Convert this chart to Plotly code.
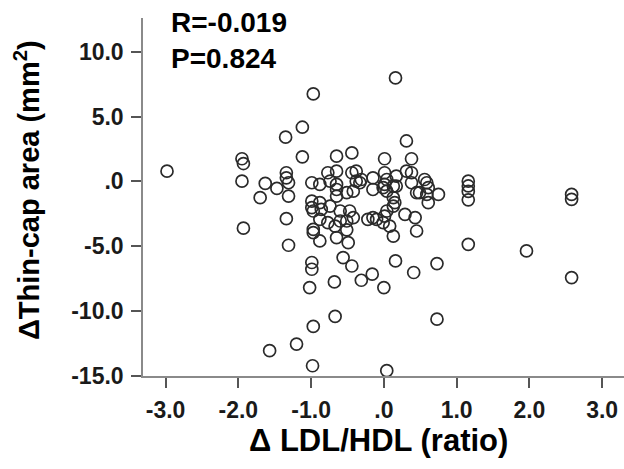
import plotly.graph_objects as go

# Δ LDL/HDL (ratio) and Δ Thin-cap area (mm²)
delta_ldl_hdl = [
    -2.98, -0.97, -1.12, -1.35, -1.95, -1.93, -1.95, -1.12, -0.65, -0.44,
    -1.63, -1.47, -1.34, -1.34, -1.31, -1.70, -1.31, -1.34, -1.93, -1.31,
    -0.99, -0.88, -0.77, -0.65, -0.74, -0.65, -0.65, -0.65, -0.44, -0.38,
    -0.31, -0.38, -0.42, -0.51, -0.99, -0.99, -0.97, -0.88, -0.86, -0.74,
    -0.60, -0.47, -0.97, -0.88, -0.77, -0.67, -0.60, -0.51, -0.51, -0.42,
    -0.22, -0.97, -0.88, -0.65, -0.49, -0.99, -0.99, -1.02, -0.68, -0.56,
    -0.44, -0.31, -0.16, -0.67, -0.97, -1.20, -1.57, -0.98, 0.00, 0.04,
    0.16, 0.31, 0.01, 0.38, 0.01, 0.04, 0.01, -0.01, 0.04, -0.15,
    -0.33, -0.15, 0.17, 0.17, 0.31, 0.38, 0.38, 0.56, 0.59, 0.61,
    0.49, 0.59, 0.75, 0.61, 1.16, 1.16, 1.16, 1.16, 2.58, 2.58,
    1.16, 1.96, 2.58, 0.73, 0.73, 0.16, 0.41, 0.45, 0.13, 0.13,
    0.13, 0.45, 0.29, 0.43, -0.15, -0.10, 0.01, 0.04, 0.13, 0.15,
    0.08, -0.01,
]
delta_thin_cap = [
    0.79, 6.75, 4.18, 3.41, 1.75, 1.38, 0.02, 1.90, 1.95, 2.20,
    -0.15, -0.54, 0.67, 0.28, -0.10, -1.25, -1.13, -2.87, -3.60, -4.92,
    -0.10, -0.23, 0.67, 0.79, 0.02, -0.23, -0.62, -1.13, 0.67, 0.79,
    0.15, 0.02, -0.75, -0.87, -1.52, -2.02, -2.28, -1.64, -2.15, -1.90,
    -2.28, -2.28, -3.69, -2.92, -3.18, -3.44, -3.05, -3.05, -3.73, -2.79,
    -2.92, -3.95, -4.59, -4.33, -4.72, -6.25, -6.77, -8.18, -7.75, -5.87,
    -6.52, -7.62, -7.15, -10.41, -11.18, -12.54, -13.05, -14.21, -8.18, -14.59,
    7.98, 3.12, 1.75, 1.75, 0.67, 0.15, -0.23, -0.48, -0.75, 0.28,
    -0.10, -0.62, 0.41, -0.36, 0.79, 0.67, -0.10, 0.15, -0.10, -0.48,
    -0.87, -1.00, -1.00, -1.64, 0.02, -0.35, -0.77, -1.42, -1.00, -1.38,
    -4.85, -5.36, -7.41, -6.33, -10.62, -6.13, -7.02, -3.82, -4.21, -1.25,
    -0.36, -0.87, -2.54, -2.79, -2.79, -2.92, -2.67, -2.28, -1.90, -1.64,
    -3.44, -3.18,
]

x_tickvals = [-3, -2, -1, 0, 1, 2, 3]
x_ticktext = ["-3.0", "-2.0", "-1.0", ".0", "1.0", "2.0", "3.0"]
y_tickvals = [-15, -10, -5, 0, 5, 10]
y_ticktext = ["-15.0", "-10.0", "-5.0", ".0", "5.0", "10.0"]

stats_lines = ["R=-0.019", "P=0.824"]
x_title = "\u0394 LDL/HDL (ratio)"
y_title = "\u0394Thin-cap area (mm<sup>2</sup>)"

FONT = "Liberation Sans, Arial, Helvetica, sans-serif"

fig = go.Figure()
fig.add_trace(go.Scatter(
    x=delta_ldl_hdl, y=delta_thin_cap, mode="markers",
    marker=dict(symbol="circle-open", size=12, color="#2a2a2a",
                line=dict(width=1.7, color="#2a2a2a")),
    showlegend=False, hoverinfo="skip",
))

axis_common = dict(
    showgrid=False, zeroline=False, showline=True, linecolor="#8a8a8a",
    linewidth=1.5, ticks="outside", ticklen=10, tickwidth=2, tickcolor="#555555",
    ticklabelstandoff=3,
    tickfont=dict(family=FONT, size=23, color="#1a1a1a", weight="bold"),
)

fig.update_layout(
    width=624, height=469,
    margin=dict(l=143, r=0, t=18, b=93),
    paper_bgcolor="white", plot_bgcolor="white",
    font=dict(family=FONT, color="black"),
    xaxis=dict(range=[-3.31, 3.30], tickvals=x_tickvals, ticktext=x_ticktext,
               **axis_common),
    yaxis=dict(range=[-15, 12.6], tickvals=y_tickvals, ticktext=y_ticktext,
               **axis_common),
    annotations=[
        dict(text="<br>".join("<b>" + s + "</b>" for s in stats_lines),
             xref="paper", yref="paper", x=0.054, y=1.035,
             xanchor="left", yanchor="top", align="left", showarrow=False,
             font=dict(family=FONT, size=28, color="black")),
        dict(text="<b>" + x_title + "</b>", xref="paper", yref="paper",
             x=(378 - 143) / 481, y=-(440 - 376) / 358,
             xanchor="center", yanchor="middle", showarrow=False,
             font=dict(family=FONT, size=31, color="black")),
        dict(text="<b>" + y_title + "</b>", xref="paper", yref="paper",
             x=-(143 - 27) / 481, y=(376 - 190) / 358, textangle=-90,
             xanchor="center", yanchor="middle", showarrow=False,
             font=dict(family=FONT, size=29, color="black")),
    ],
)

fig.write_html("out.html")
